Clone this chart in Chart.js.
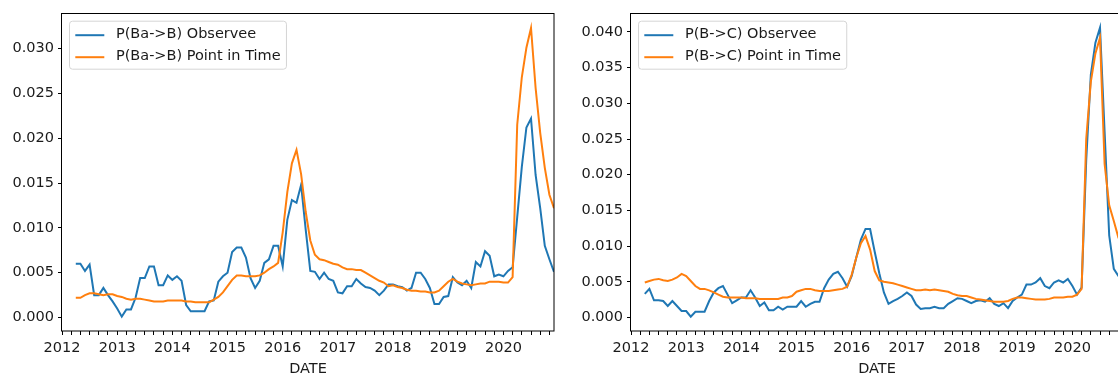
<!DOCTYPE html>
<html>
<head>
<meta charset="UTF-8" />
<title>Observee vs Point in Time</title>
<script src="https://cdn.jsdelivr.net/npm/chart.js"></script>
<style>
  html, body { margin: 0; padding: 0; background: #fff; overflow: hidden; }
  body { position: relative; width: 1118px; height: 376px; }
  canvas { position: absolute; top: 0; }
</style>
</head>
<body>
<canvas id="left" width="560" height="376" style="left:0"></canvas>
<canvas id="right" width="560" height="376" style="left:569px"></canvas>
<script>
  // monthly data, first value = April 2012, last = December 2020
  const firstMonth = '2012-04';
  const lastMonth = '2020-12';
  const axisStart = '2012-01';
  const yearLabels = ['2012', '2013', '2014', '2015', '2016', '2017', '2018', '2019', '2020'];

  const leftLabels = ['P(Ba->B) Observee', 'P(Ba->B) Point in Time'];
  const leftTicks = [0, 0.005, 0.010, 0.015, 0.020, 0.025, 0.030];
  const leftObserved = [
    0.0060, 0.0060, 0.0052, 0.0059, 0.0025, 0.0025, 0.0033, 0.0025, 0.0018, 0.0010,
    0.0001, 0.0009, 0.0009, 0.0022, 0.0044, 0.0044, 0.0057, 0.0057, 0.0036, 0.0036,
    0.0047, 0.0042, 0.0046, 0.0041, 0.0014, 0.0007, 0.0007, 0.0007, 0.0007, 0.0018,
    0.0019, 0.0040, 0.0046, 0.0050, 0.0073, 0.0078, 0.0078, 0.0067, 0.0044, 0.0033,
    0.0041, 0.0061, 0.0065, 0.0080, 0.0080, 0.0057, 0.0109, 0.0131, 0.0128, 0.0148,
    0.0098, 0.0052, 0.0051, 0.0043, 0.0050, 0.0043, 0.0041, 0.0028, 0.0027, 0.0035,
    0.0035, 0.0043, 0.0038, 0.0034, 0.0033, 0.0030, 0.0025, 0.0030, 0.0037, 0.0037,
    0.0035, 0.0034, 0.0030, 0.0033, 0.0050, 0.0050, 0.0043, 0.0033, 0.0015, 0.0015,
    0.0023, 0.0024, 0.0045, 0.0039, 0.0036, 0.0041, 0.0033, 0.0062, 0.0057, 0.0074,
    0.0069, 0.0046, 0.0048, 0.0046, 0.0052, 0.0056, 0.0112, 0.0168, 0.0212, 0.0222,
    0.0159, 0.0122, 0.0080, 0.0065, 0.0051
  ];
  const leftPointInTime = [
    0.0022, 0.0022, 0.0025, 0.0027, 0.0027, 0.0026, 0.0025, 0.0026, 0.0026, 0.0024,
    0.0023, 0.0021, 0.0020, 0.0021, 0.0021, 0.0020, 0.0019, 0.0018, 0.0018, 0.0018,
    0.0019, 0.0019, 0.0019, 0.0019, 0.0018, 0.0018, 0.0017, 0.0017, 0.0017, 0.0017,
    0.0020, 0.0023, 0.0028, 0.0035, 0.0042, 0.0047, 0.0047, 0.0046, 0.0046, 0.0046,
    0.0047, 0.0050, 0.0054, 0.0057, 0.0061, 0.0095, 0.0140, 0.0172, 0.0187, 0.0160,
    0.0118, 0.0086, 0.0070, 0.0065, 0.0064, 0.0062, 0.0060, 0.0059, 0.0056, 0.0054,
    0.0054, 0.0053, 0.0053, 0.0050, 0.0047, 0.0044, 0.0041, 0.0039, 0.0035, 0.0036,
    0.0034, 0.0033, 0.0031, 0.0030, 0.0030, 0.0029, 0.0029, 0.0028, 0.0028, 0.0030,
    0.0035, 0.0040, 0.0043, 0.0040, 0.0038, 0.0037, 0.0036, 0.0037, 0.0038, 0.0038,
    0.0040, 0.0040, 0.0040, 0.0039, 0.0039, 0.0045, 0.0215, 0.0268, 0.0301, 0.0323,
    0.0256, 0.0206, 0.0167, 0.0137, 0.0122
  ];

  const rightLabels = ['P(B->C) Observee', 'P(B->C) Point in Time'];
  const rightTicks = [0, 0.005, 0.010, 0.015, 0.020, 0.025, 0.030, 0.035, 0.040];
  const rightObserved = [
    0.0033, 0.0040, 0.0024, 0.0024, 0.0023, 0.0016, 0.0023, 0.0016, 0.0009, 0.0009,
    0.0001, 0.0008, 0.0008, 0.0008, 0.0023, 0.0035, 0.0041, 0.0044, 0.0032, 0.0020,
    0.0024, 0.0028, 0.0028, 0.0038, 0.0028, 0.0016, 0.0021, 0.0010, 0.0010, 0.0015,
    0.0011, 0.0015, 0.0015, 0.0015, 0.0023, 0.0015, 0.0019, 0.0022, 0.0022, 0.0041,
    0.0053, 0.0061, 0.0064, 0.0055, 0.0043, 0.0058, 0.0084, 0.0109, 0.0124, 0.0124,
    0.0092, 0.0062, 0.0035, 0.0019, 0.0023, 0.0026, 0.0030, 0.0035, 0.0030, 0.0018,
    0.0012, 0.0013, 0.0013, 0.0015, 0.0013, 0.0013, 0.0019, 0.0023, 0.0027, 0.0026,
    0.0023, 0.0020, 0.0023, 0.0024, 0.0022, 0.0027, 0.0019, 0.0016, 0.0020, 0.0013,
    0.0023, 0.0028, 0.0032, 0.0046, 0.0046, 0.0049, 0.0055, 0.0044, 0.0041, 0.0049,
    0.0052, 0.0049, 0.0054, 0.0044, 0.0032, 0.0042, 0.0220, 0.0340, 0.0385, 0.0406,
    0.0260, 0.0115, 0.0068, 0.0058, 0.0055
  ];
  const rightPointInTime = [
    0.0049, 0.0051, 0.0053, 0.0054, 0.0052, 0.0051, 0.0053, 0.0056, 0.0061, 0.0058,
    0.0051, 0.0044, 0.0040, 0.0040, 0.0038, 0.0035, 0.0032, 0.0029, 0.0028, 0.0028,
    0.0028, 0.0028, 0.0027, 0.0027, 0.0027, 0.0026, 0.0026, 0.0026, 0.0026, 0.0026,
    0.0028, 0.0028, 0.0030, 0.0036, 0.0038, 0.0040, 0.0040, 0.0038, 0.0037, 0.0037,
    0.0037, 0.0038, 0.0039, 0.0040, 0.0043, 0.0060, 0.0084, 0.0104, 0.0114, 0.0095,
    0.0065, 0.0052, 0.0050, 0.0049, 0.0048, 0.0046, 0.0044, 0.0042, 0.0040, 0.0038,
    0.0038, 0.0039, 0.0038, 0.0039, 0.0038, 0.0037, 0.0036, 0.0033, 0.0031, 0.0030,
    0.0030, 0.0028, 0.0026, 0.0025, 0.0024, 0.0023, 0.0022, 0.0022, 0.0022, 0.0023,
    0.0026, 0.0028, 0.0028, 0.0027, 0.0026, 0.0025, 0.0025, 0.0025, 0.0026, 0.0028,
    0.0028, 0.0028, 0.0029, 0.0029, 0.0032, 0.0040, 0.0250, 0.0330, 0.0370, 0.0392,
    0.0215, 0.0157, 0.0135, 0.0112, 0.0100
  ];

  const FONT = '"DejaVu Sans", sans-serif';
  const FSIZE = 14.5;
  const TEXT = '#1a1a1a';

  // months counted from the start of the x axis
  function monthIndex(s) {
    const [y, m] = s.split('-').map(Number);
    const [y0, m0] = axisStart.split('-').map(Number);
    return (y - y0) * 12 + (m - m0);
  }
  const xMin = 0;
  const xMax = monthIndex(lastMonth);

  function toPoints(values) {
    const start = monthIndex(firstMonth);
    return values.map((v, i) => ({ x: start + i, y: v }));
  }

  // frame round the plot area, like the matplotlib spines
  const frame = {
    id: 'frame',
    afterDatasetsDraw(chart) {
      const { ctx, chartArea: a } = chart;
      ctx.save();
      ctx.strokeStyle = '#000';
      ctx.lineWidth = 1;
      ctx.strokeRect(Math.round(a.left) - 0.5, Math.round(a.top) + 0.5,
        Math.round(a.right - a.left) + 0.5, Math.round(a.bottom - a.top) - 0.5);
      ctx.restore();
    }
  };

  // legend in a box at upper left inside the axes
  const boxLegend = {
    id: 'boxLegend',
    afterDraw(chart) {
      const { ctx, chartArea: a } = chart;
      const f = FSIZE;
      const sets = chart.data.datasets;
      ctx.save();
      ctx.font = f + 'px ' + FONT;
      const tw = Math.max(...sets.map(d => ctx.measureText(d.label).width));
      const x0 = a.left + 7.5, y0 = a.top + 8.5;
      const w = 0.4 * f + 2 * f + 0.8 * f + tw + 0.4 * f;
      const h = 48;
      ctx.beginPath();
      ctx.roundRect(x0, y0, w, h, 3);
      ctx.fillStyle = 'rgba(255,255,255,0.8)';
      ctx.fill();
      ctx.strokeStyle = '#d5d5d5';
      ctx.lineWidth = 1;
      ctx.stroke();
      sets.forEach((d, i) => {
        const cy = y0 + 14 + i * 22;
        ctx.strokeStyle = d.borderColor;
        ctx.lineWidth = 2;
        ctx.beginPath();
        ctx.moveTo(x0 + 0.4 * f, cy);
        ctx.lineTo(x0 + 2.4 * f, cy);
        ctx.stroke();
        ctx.fillStyle = TEXT;
        ctx.textBaseline = 'middle';
        ctx.textAlign = 'left';
        ctx.fillText(d.label, x0 + 3.2 * f, cy - 0.5);
      });
      ctx.restore();
    }
  };

  function makeChart(id, labels, observed, pit, yTicks, yMin, yMax) {
    return new Chart(document.getElementById(id), {
      type: 'line',
      data: {
        datasets: [
          { label: labels[0], data: toPoints(observed), borderColor: '#1f77b4', order: 1 },
          { label: labels[1], data: toPoints(pit), borderColor: '#ff7f0e', order: 0 }
        ]
      },
      options: {
        responsive: false,
        animation: false,
        devicePixelRatio: 1,
        layout: { padding: { top: 10, right: 6, left: 0, bottom: 0 } },
        elements: {
          point: { radius: 0 },
          line: { borderWidth: 2, tension: 0, fill: false }
        },
        plugins: { legend: { display: false }, tooltip: { enabled: false } },
        scales: {
          x: {
            type: 'linear',
            min: xMin,
            max: xMax,
            afterFit: s => { s.height = 45; },
            afterBuildTicks: s => {
              const t = [];
              for (let m = xMin; m < xMax; m += 2) t.push({ value: m });
              s.ticks = t;
            },
            ticks: {
              autoSkip: false,
              maxRotation: 0,
              padding: 5,
              color: TEXT,
              font: { family: FONT, size: FSIZE },
              callback: v => (v % 12 === 0 ? yearLabels[v / 12] : '')
            },
            grid: { drawOnChartArea: false, drawTicks: true, tickLength: 4, tickColor: '#000' },
            border: { display: false },
            title: {
              display: true,
              text: 'DATE',
              color: TEXT,
              font: { family: FONT, size: FSIZE, lineHeight: 1 },
              padding: 0
            }
          },
          y: {
            min: yMin,
            max: yMax,
            afterFit: s => { s.width = 62; },
            afterBuildTicks: s => { s.ticks = yTicks.map(v => ({ value: v })); },
            ticks: {
              padding: 4,
              color: TEXT,
              font: { family: FONT, size: FSIZE },
              callback: v => v.toFixed(3)
            },
            grid: { drawOnChartArea: false, drawTicks: true, tickLength: 4, tickColor: '#000' },
            border: { display: false }
          }
        }
      },
      plugins: [frame, boxLegend]
    });
  }

  makeChart('left', leftLabels, leftObserved, leftPointInTime, leftTicks, -0.0015, 0.0340);
  makeChart('right', rightLabels, rightObserved, rightPointInTime, rightTicks, -0.0019, 0.0427);
</script>
</body>
</html>
